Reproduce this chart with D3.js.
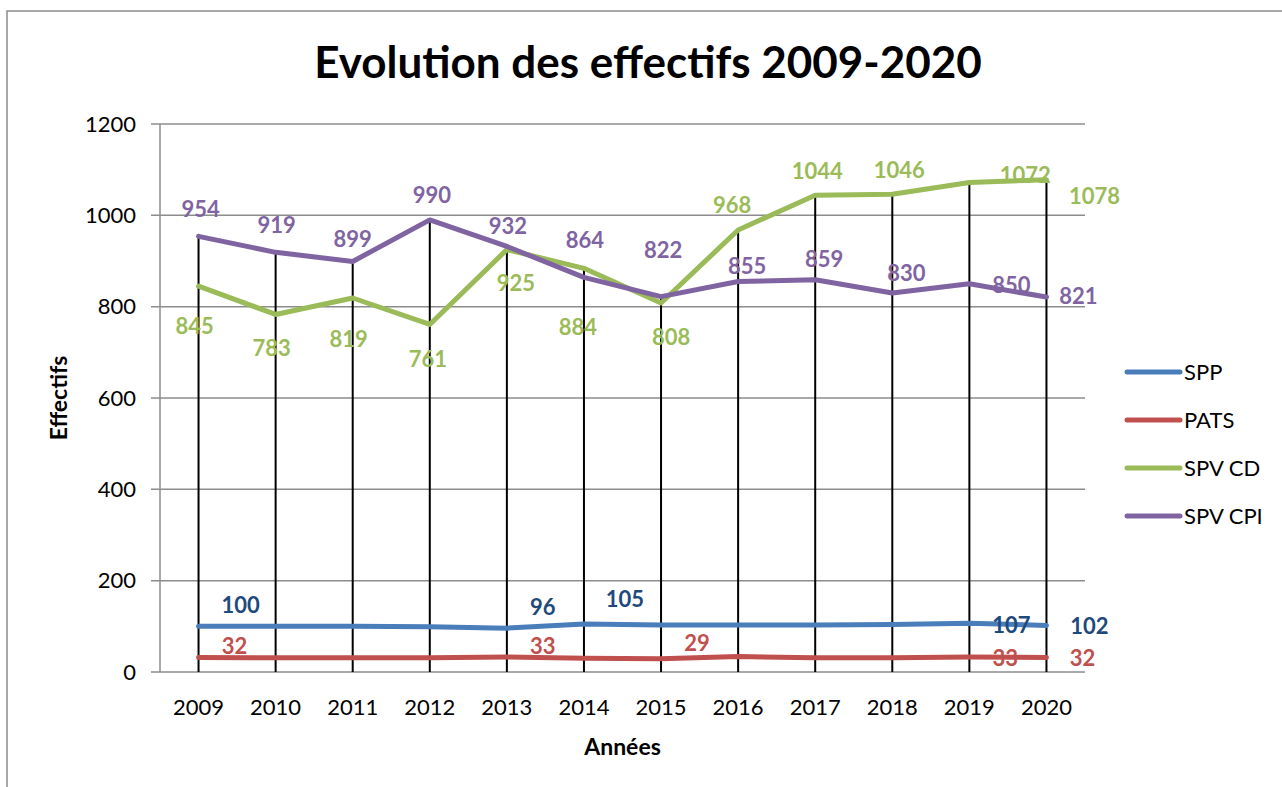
<!DOCTYPE html>
<html>
<head>
<meta charset="utf-8">
<script src="https://cdn.jsdelivr.net/npm/d3@7"></script>
<style>
  body { margin: 0; background: #fff; }
  svg { display: block; font-family: Lato, "Open Sans", sans-serif; }
</style>
</head>
<body>
<svg id="chart" width="1282" height="787"></svg>
<script>
// Data
const years = ['2009', '2010', '2011', '2012', '2013', '2014', '2015', '2016', '2017', '2018', '2019', '2020'];
const spp    = [100, 100, 100, 99, 96, 105, 103, 103, 103, 104, 107, 102];
const pats   = [32, 31, 31, 31, 33, 30, 29, 34, 31, 31, 33, 32];
const spvCd  = [845, 783, 819, 761, 925, 884, 808, 968, 1044, 1046, 1072, 1078];
const spvCpi = [954, 919, 899, 990, 932, 864, 822, 855, 859, 830, 850, 821];
const yTicks = [0, 200, 400, 600, 800, 1000, 1200];

// which points carry a value label
const sppShown  = [1, 0, 0, 0, 1, 1, 0, 0, 0, 0, 1, 1];
const patsShown = [1, 0, 0, 0, 1, 0, 1, 0, 0, 0, 1, 1];

// label placement (offset of label centre from the point, px)
const sppLabelPos  = [[42, -21], [0, 0], [0, 0], [0, 0], [36, -21], [41, -25], [0, 0], [0, 0], [0, 0], [0, 0], [42, 2], [43, 1]];
const patsLabelPos = [[36, -11], [0, 0], [0, 0], [0, 0], [36, -11], [0, 0], [36, -15], [0, 0], [0, 0], [0, 0], [36, 1], [36, 1]];
const cdLabelPos   = [[-4, 40], [-4, 34], [-4, 41], [-2, 35], [9, 34], [-6, 59], [10, 34], [-6, -25], [2, -24], [7, -24], [56, -7], [48, 17]];
const cpiLabelPos  = [[2, -27], [1, -27], [0, -22], [2, -25], [1, -20], [1, -37], [2, -46], [9, -15], [9, -20], [14, -20], [42, 1], [32, -1]];

const series = [
    { name: 'SPP',     values: spp,    shown: sppShown,  pos: sppLabelPos,  color: '#4a7ebb', labelColor: '#1f497d' },
    { name: 'PATS',    values: pats,   shown: patsShown, pos: patsLabelPos, color: '#c0504d', labelColor: '#c0504d' },
    { name: 'SPV CD',  values: spvCd,  shown: null,      pos: cdLabelPos,   color: '#9bbb59', labelColor: '#9bbb59' },
    { name: 'SPV CPI', values: spvCpi, shown: null,      pos: cpiLabelPos,  color: '#8064a2', labelColor: '#8064a2' }
];

const svg = d3.select('#chart');
const grid = '#8c8c8c';

// Outer frame
svg.append('rect')
    .attr('x', 7).attr('y', 11)
    .attr('width', 1300).attr('height', 800)
    .attr('fill', 'none')
    .attr('stroke', grid)
    .attr('stroke-width', 1.5);

const margin = { left: 160, right: 1085, top: 124, bottom: 672 };

const x = d3.scaleBand()
    .domain(years)
    .range([margin.left, margin.right]);

const y = d3.scaleLinear()
    .domain([0, 1200])
    .range([margin.bottom, margin.top]);

const px = i => x(years[i]) + x.bandwidth() / 2;

// Gridlines
svg.append('g')
    .selectAll('line')
    .data(yTicks)
    .enter()
    .append('line')
    .attr('x1', margin.left - 9)
    .attr('x2', margin.right)
    .attr('y1', d => y(d))
    .attr('y2', d => y(d))
    .attr('stroke', grid)
    .attr('stroke-width', 1.5);

// Y axis line
svg.append('line')
    .attr('x1', margin.left).attr('x2', margin.left)
    .attr('y1', margin.top).attr('y2', margin.bottom)
    .attr('stroke', grid)
    .attr('stroke-width', 1.5);

// Y tick labels
svg.append('g')
    .selectAll('text')
    .data(yTicks)
    .enter()
    .append('text')
    .attr('x', 136)
    .attr('y', d => y(d))
    .attr('dy', '0.35em')
    .attr('text-anchor', 'end')
    .attr('font-size', 22)
    .attr('fill', '#000')
    .text(d => d);

// X tick labels
svg.append('g')
    .selectAll('text')
    .data(years)
    .enter()
    .append('text')
    .attr('x', d => x(d) + x.bandwidth() / 2)
    .attr('y', 715)
    .attr('text-anchor', 'middle')
    .attr('font-size', 22)
    .attr('fill', '#000')
    .text(d => d);

// Drop lines from the highest point to the axis
svg.append('g')
    .selectAll('line')
    .data(years)
    .enter()
    .append('line')
    .attr('x1', (d, i) => px(i))
    .attr('x2', (d, i) => px(i))
    .attr('y1', (d, i) => y(d3.max(series, s => s.values[i])))
    .attr('y2', y(0))
    .attr('stroke', '#000')
    .attr('stroke-width', 2);

// Series lines
const line = d3.line()
    .x((d, i) => px(i))
    .y(d => y(d));

series.forEach(s => {
    svg.append('path')
        .datum(s.values)
        .attr('d', line)
        .attr('fill', 'none')
        .attr('stroke', s.color)
        .attr('stroke-width', 5)
        .attr('stroke-linejoin', 'round')
        .attr('stroke-linecap', 'round');
});

// Value labels
series.forEach(s => {
    svg.append('g')
        .selectAll('text')
        .data(s.values.map((v, i) => ({ v, i })).filter(d => !s.shown || s.shown[d.i]))
        .enter()
        .append('text')
        .attr('x', d => px(d.i) + s.pos[d.i][0])
        .attr('y', d => y(d.v) + s.pos[d.i][1])
        .attr('dy', '0.35em')
        .attr('text-anchor', 'middle')
        .attr('font-size', 22)
        .attr('font-weight', 'bold')
        .attr('fill', s.labelColor)
        .text(d => d.v);
});

// Title
svg.append('text')
    .attr('x', 648)
    .attr('y', 78)
    .attr('text-anchor', 'middle')
    .attr('font-size', 44)
    .attr('font-weight', 'bold')
    .text('Evolution des effectifs 2009-2020');

// Axis titles
svg.append('text')
    .attr('x', (margin.left + margin.right) / 2)
    .attr('y', 755)
    .attr('text-anchor', 'middle')
    .attr('font-size', 23)
    .attr('font-weight', 'bold')
    .text('Années');

svg.append('text')
    .attr('transform', `translate(67, ${(margin.top + margin.bottom) / 2}) rotate(-90)`)
    .attr('text-anchor', 'middle')
    .attr('font-size', 23)
    .attr('font-weight', 'bold')
    .text('Effectifs');

// Legend
const legend = svg.append('g')
    .selectAll('g')
    .data(series)
    .enter()
    .append('g')
    .attr('transform', (d, i) => `translate(1127, ${372 + i * 48})`);

legend.append('line')
    .attr('x1', 0).attr('x2', 53)
    .attr('stroke', d => d.color)
    .attr('stroke-width', 5)
    .attr('stroke-linecap', 'round');

legend.append('text')
    .attr('x', 57)
    .attr('dy', '0.35em')
    .attr('font-size', 22)
    .text(d => d.name);
</script>
</body>
</html>
